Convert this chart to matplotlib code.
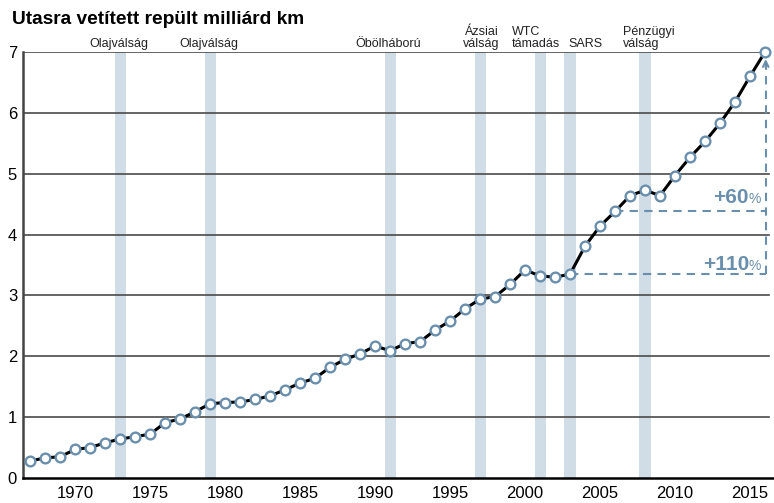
import matplotlib.pyplot as plt
from matplotlib import font_manager

# available fonts
names = set(f.name for f in font_manager.fontManager.ttflist)
narrow = "Liberation Sans Narrow" if "Liberation Sans Narrow" in names else "Liberation Sans"
plt.rcParams["font.family"] = ["Liberation Sans", "DejaVu Sans"]

# Data
years = list(range(1967, 2017))
values = [0.28, 0.33, 0.35, 0.47, 0.50, 0.58, 0.64, 0.68, 0.72, 0.91,
          0.97, 1.09, 1.22, 1.24, 1.25, 1.29, 1.35, 1.45, 1.56, 1.64,
          1.82, 1.95, 2.04, 2.17, 2.09, 2.21, 2.24, 2.43, 2.58, 2.78,
          2.94, 2.98, 3.18, 3.42, 3.32, 3.30, 3.35, 3.81, 4.14, 4.38,
          4.64, 4.73, 4.64, 4.97, 5.27, 5.53, 5.83, 6.18, 6.60, 7.00]

crisis_years = [1973, 1979, 1991, 1997, 2001, 2003, 2008]
crisis_labels = ["Olajválság", "Olajválság", "Öbölháború", "Ázsiai\nválság",
                 "WTC\ntámadás", "SARS", "Pénzügyi\nválság"]
# label x (data) and alignment
label_x = [1972.9, 1978.9, 1990.9, 1997.1, 1999.1, 2002.9, 2006.5]
label_ha = ["center", "center", "center", "center", "left", "left", "left"]

xticks = [1970, 1975, 1980, 1985, 1990, 1995, 2000, 2005, 2010, 2015]
yticks = [0, 1, 2, 3, 4, 5, 6, 7]

base_60 = 2006
base_110 = 2003

blue = "#6a8fad"
band = "#d0dce6"

fig = plt.figure(figsize=(7.74, 5.03), dpi=100)
ax = fig.add_axes([0.0293, 0.0497, 0.9707, 0.8469])
ax.set_xlim(1966.5, 2016.6)
ax.set_ylim(0, 7)

# crisis bands
for cy in crisis_years:
    ax.axvspan(cy - 0.37, cy + 0.37, color=band, lw=0, zorder=0)

# grid lines
for yv in yticks[1:]:
    ax.axhline(yv, xmin=0, xmax=0.994, color="#4a4a4a", lw=1.2, zorder=1)

# annotation lines
v60 = values[years.index(base_60)]
v110 = values[years.index(base_110)]
vend = values[-1]
xend = years[-1] + 0.05
ax.plot([base_60, xend], [v60, v60], ls=(0, (4, 3)), color=blue, lw=1.5, zorder=2)
ax.plot([base_110, xend], [v110, v110], ls=(0, (4, 3)), color=blue, lw=1.5, zorder=2)
ax.plot([xend, xend], [v110, vend - 0.12], ls=(0, (4, 3)), color=blue, lw=1.5, zorder=2)
ax.annotate("", xy=(xend, vend - 0.07), xytext=(xend, vend - 0.3),
            arrowprops=dict(arrowstyle="->", color=blue, lw=1.5,
                            mutation_scale=10), zorder=2)

# main series
ax.plot(years, values, color="black", lw=2.2, marker="o", ms=7,
        mfc="white", mec=blue, mew=1.7, zorder=3, clip_on=False)

# percent labels
ax.text(2014.93, 4.52, "+60", ha="right", va="baseline", fontsize=15,
        fontweight="bold", color=blue, family=[narrow, "DejaVu Sans"])
ax.text(2015.75, 4.52, "%", ha="right", va="baseline", fontsize=10,
        color=blue)
ax.text(2014.93, 3.42, "+110", ha="right", va="baseline", fontsize=15,
        fontweight="bold", color=blue, family=[narrow, "DejaVu Sans"])
ax.text(2015.75, 3.42, "%", ha="right", va="baseline", fontsize=10,
        color=blue)

# crisis labels
for lx, lab, ha in zip(label_x, crisis_labels, label_ha):
    ax.text(lx, 7.03, lab, ha=ha, va="bottom", fontsize=9, color="#222222",
            linespacing=1.05)

ax.set_xticks(xticks)
ax.set_yticks(yticks)
ax.tick_params(axis="both", length=0, labelsize=12, colors="black")
ax.tick_params(axis="x", pad=6)
ax.tick_params(axis="y", pad=4)
for lab in ax.get_xticklabels() + ax.get_yticklabels():
    lab.set_family([narrow, "DejaVu Sans"])

for s in ["top", "right"]:
    ax.spines[s].set_visible(False)
ax.spines["left"].set_color("#444444")
ax.spines["left"].set_linewidth(1.8)
ax.spines["bottom"].set_color("black")
ax.spines["bottom"].set_linewidth(1.8)

fig.text(0.016, 0.962, "Utasra vetített repült milliárd km", fontsize=13.8,
         fontweight="bold", ha="left", va="center")

fig.savefig("out.png", dpi=100)
